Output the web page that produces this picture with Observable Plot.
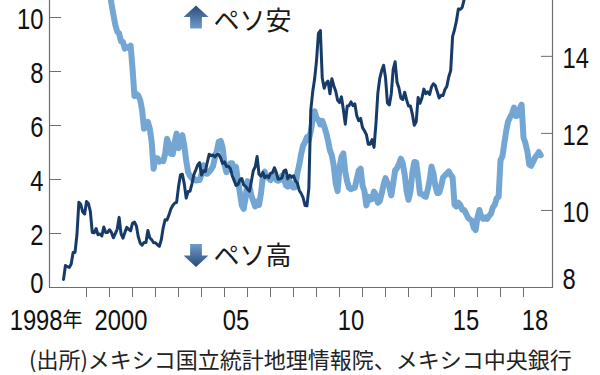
<!DOCTYPE html>
<html><head><meta charset="utf-8">
<script src="https://cdn.jsdelivr.net/npm/d3@7"></script>
<script src="https://cdn.jsdelivr.net/npm/@observablehq/plot@0.6"></script>
<style>
html,body{margin:0;padding:0;background:#fff;}
#wrap{position:relative;width:600px;height:375px;overflow:hidden;}
#caption{position:absolute;left:29px;top:342px;height:33px;line-height:33px;font-family:"Noto Sans CJK JP",sans-serif;font-size:22px;color:#222;white-space:nowrap;}
</style></head><body>
<div id="wrap"><div id="chart"></div><div id="caption">(出所)メキシコ国立統計地理情報院、メキシコ中央銀行</div></div>
<script>
// ---- data (monthly, from Jan 1998) ----
const startYear = 1998;
// consumer price inflation, % y/y (left axis)
const inflation = [
15.27,15.35,15.27,15.10,14.97,15.31,15.41,15.51,15.92,17.36,17.41,18.61,
19.02,18.52,17.67,16.89,16.34,15.97,15.46,14.64,13.78,13.29,13.02,12.32,
11.02,10.52,10.11,9.73,9.48,9.41,9.12,9.10,8.85,8.91,8.87,8.96,
8.11,7.09,7.17,7.11,6.95,6.57,5.88,5.93,6.14,5.89,5.39,4.40,
4.79,4.79,4.66,4.70,4.68,4.94,5.51,5.29,4.95,4.94,5.39,5.70,
5.16,5.52,5.64,5.25,4.70,4.27,4.13,4.04,4.04,3.96,3.98,3.98,
4.20,4.53,4.23,4.21,4.29,4.37,4.49,4.82,5.06,5.40,5.43,5.19,
4.54,4.27,4.39,4.60,4.60,4.33,4.47,3.95,3.51,3.05,2.91,3.33,
3.94,3.75,3.41,3.20,3.00,3.18,3.06,3.47,4.09,4.29,4.09,4.05,
3.98,4.11,4.21,3.99,3.95,3.98,4.14,4.03,3.79,3.74,3.93,3.76,
3.70,3.72,4.25,4.55,4.95,5.26,5.39,5.57,5.47,5.78,6.23,6.53,
6.28,6.20,6.04,6.17,5.98,5.74,5.44,5.08,4.89,4.50,3.86,3.57,
4.46,4.83,4.97,4.27,3.92,3.69,3.64,3.68,3.70,4.02,4.32,4.40,
3.78,3.57,3.04,3.36,3.25,3.28,3.55,3.42,3.14,3.20,3.48,3.82,
4.05,3.87,3.73,3.41,3.85,4.34,4.42,4.57,4.77,4.60,4.18,3.57,
3.25,3.55,4.25,4.65,4.63,4.09,3.47,3.46,3.39,3.36,3.62,3.97,
4.48,4.23,3.76,3.50,3.51,3.75,4.07,4.15,4.22,4.30,4.17,4.08,
3.07,3.00,3.14,3.06,2.88,2.87,2.74,2.59,2.52,2.48,2.21,2.13,
2.61,2.87,2.60,2.54,2.60,2.54,2.65,2.73,2.97,3.06,3.31,3.36,
4.72,4.86,5.35,5.82,6.16,6.31,6.44,6.66,6.35,6.37,6.63,6.77,
5.55,5.34,5.04,4.55,4.51,4.65,4.81,4.90,5.02,4.90
];
// pesos per US dollar (right axis)
const pesoPerDollar = [
8.21,8.57,8.54,8.52,8.61,8.91,8.91,9.37,10.21,10.16,9.96,9.91,
10.23,10.18,9.97,9.43,9.42,9.53,9.37,9.39,9.34,9.57,9.43,9.43,
9.50,9.43,9.29,9.40,9.51,9.82,9.40,9.28,9.43,9.56,9.51,9.47,
9.67,9.70,9.60,9.32,9.15,9.10,9.17,9.17,9.48,9.29,9.24,9.16,
9.16,9.11,9.07,9.24,9.55,9.76,9.75,9.88,10.04,10.13,10.19,10.21,
10.62,10.92,10.94,10.69,10.32,10.49,10.50,10.69,10.93,11.05,11.18,11.24,
10.92,11.03,11.01,11.25,11.46,11.42,11.44,11.39,11.45,11.45,11.36,11.22,
11.26,11.14,11.15,11.09,10.91,10.78,10.65,10.67,10.79,10.83,10.66,10.63,
10.55,10.50,10.75,11.03,11.13,11.40,10.94,10.89,10.99,10.85,10.90,10.85,
10.96,10.98,11.11,10.99,10.81,10.82,10.85,11.03,11.05,10.82,10.91,10.86,
10.90,10.77,10.71,10.52,10.44,10.33,10.13,10.12,10.58,12.60,13.08,13.41,
13.89,14.60,14.67,13.43,13.17,13.31,13.36,13.03,13.42,13.24,13.10,12.86,
12.80,12.95,12.62,12.24,12.71,12.72,12.82,12.72,12.77,12.46,12.33,12.39,
12.15,12.07,11.97,11.72,11.72,11.84,11.64,12.25,13.05,13.43,13.63,13.77,
13.45,12.79,12.74,13.03,13.66,13.86,13.33,13.18,12.92,12.88,13.07,12.87,
12.71,12.71,12.50,12.21,12.30,12.93,12.78,12.92,13.15,13.03,13.08,13.01,
13.21,13.29,13.24,13.08,12.92,12.99,12.98,13.14,13.22,13.47,13.63,14.52,
14.69,14.92,15.23,15.22,15.27,15.47,15.93,16.50,16.86,16.58,16.63,17.07,
18.08,18.45,17.65,17.48,18.15,18.66,18.60,18.52,19.19,18.88,20.05,20.52,
21.39,20.30,19.30,18.79,18.75,18.14,17.83,17.81,17.82,18.85,18.91,19.17,
18.91,18.61,18.61,18.40,19.57,20.30,19.00,18.83,18.94,19.24
];
const leftTicks = [0, 2, 4, 6, 8, 10];
const rightTicks = [8, 10, 12, 14];
const yearTicks = d3.range(1999, 2019);
const firstYearLabel = "1998";
const yearSuffix = "年";
const yearLabels = [2000, 2005, 2010, 2015, 2018];
const yearLabelText = ["2000", "05", "10", "15", "18"];
const upNote = ["ペソ安"];
const downNote = ["ペソ高"];

// ---- scales ----
const leftDomain = [0, 10.63];
const rightDomain = [8, 15.45];
const toLeft = v => (v - rightDomain[0]) / (rightDomain[1] - rightDomain[0]) * (leftDomain[1] - leftDomain[0]);
const fromLeft = y => rightDomain[0] + y / (leftDomain[1] - leftDomain[0]) * (rightDomain[1] - rightDomain[0]);

const infRows = inflation.map((v, i) => ({t: startYear + i / 12, v}));
const fxRows = pesoPerDollar.map((v, i) => ({t: startYear + i / 12, v: toLeft(v)}));
const yearRows = yearLabels.map((y, i) => ({x: y + 0.5, text: yearLabelText[i]}));

const lightBlue = "#74a6d3";
const navy = "#173b68";
const axisGray = "#6e6e6e";
const numFont = '"Liberation Sans",Arial,sans-serif';
const jpFont = '"Noto Sans CJK JP",sans-serif';
const narrow = 0.82; // condensed digits

const arrowUp = {draw(ctx, size) {
  const r = Math.sqrt(size / Math.PI);
  ctx.moveTo(0, -0.92 * r); ctx.lineTo(r, 0); ctx.lineTo(0.47 * r, 0); ctx.lineTo(0.47 * r, 0.92 * r);
  ctx.lineTo(-0.47 * r, 0.92 * r); ctx.lineTo(-0.47 * r, 0); ctx.lineTo(-r, 0); ctx.closePath();
}};
const arrowDown = {draw(ctx, size) {
  const r = Math.sqrt(size / Math.PI);
  ctx.moveTo(0, 0.92 * r); ctx.lineTo(r, 0); ctx.lineTo(0.47 * r, 0); ctx.lineTo(0.47 * r, -0.92 * r);
  ctx.lineTo(-0.47 * r, -0.92 * r); ctx.lineTo(-0.47 * r, 0); ctx.lineTo(-r, 0); ctx.closePath();
}};

const chart = Plot.plot({
  width: 600, height: 340,
  marginTop: 0, marginBottom: 53, marginLeft: 49, marginRight: 48,
  style: {fontFamily: numFont, fontSize: "29px", color: "#111", background: "#fff"},
  x: {domain: [1997.39, 2019.26]},
  y: {domain: leftDomain},
  marks: [
    Plot.line(infRows, {x: "t", y: "v", stroke: lightBlue, strokeWidth: 6, clip: true, strokeLinejoin: "round", strokeLinecap: "round"}),
    Plot.line(fxRows, {x: "t", y: "v", stroke: navy, strokeWidth: 3, clip: true, strokeLinejoin: "round", strokeLinecap: "round"}),
    Plot.ruleX([1997.39, 2019.26], {stroke: axisGray, strokeWidth: 1.2}),
    Plot.ruleY([0], {stroke: axisGray, strokeWidth: 1.2}),
    // left axis
    Plot.axisY({anchor: "left", ticks: leftTicks, tickSize: 12, dx: 12, fill: "none", stroke: axisGray, label: null}),
    Plot.axisY({anchor: "left", ticks: leftTicks.filter(t => t > 0), tickSize: 0, tickPadding: 6, dy: 2.5, label: null, fill: "#111", fontSize: 29, fontFamily: numFont}),
    Plot.axisY({anchor: "left", ticks: leftTicks.filter(t => t === 0), tickSize: 0, tickPadding: 6, dy: -4, label: null, fill: "#111", fontSize: 29, fontFamily: numFont}),
    // right axis
    Plot.axisY({anchor: "right", ticks: rightTicks.map(toLeft), tickSize: 12, dx: -12, fill: "none", stroke: axisGray, label: null}),
    Plot.axisY({anchor: "right", ticks: rightTicks.filter(t => t > 8).map(toLeft), tickFormat: d => Math.round(fromLeft(d)), tickSize: 0, tickPadding: 10, dy: 2, label: null, fill: "#111", fontSize: 29, fontFamily: numFont}),
    Plot.axisY({anchor: "right", ticks: rightTicks.filter(t => t === 8).map(toLeft), tickFormat: d => Math.round(fromLeft(d)), tickSize: 0, tickPadding: 10, dy: -8, label: null, fill: "#111", fontSize: 29, fontFamily: numFont}),
    // x axis
    Plot.axisX({anchor: "bottom", ticks: yearTicks, tickSize: 10, fill: "none", stroke: axisGray, label: null}),
    Plot.text(yearRows, {x: "x", y: 0, text: "text", dy: 33, fontSize: 29, fontFamily: numFont, fill: "#111"}),
    Plot.text([firstYearLabel], {x: 1998.826, y: 0, text: d => d, dy: 33, dx: -20, textAnchor: "end", fontSize: 29, fontFamily: numFont, fill: "#111"}),
    Plot.text([yearSuffix], {x: 1998.826, y: 0, text: d => d, dy: 33, textAnchor: "end", fontSize: 20, fontFamily: jpFont, fill: "#111"}),
    // annotations
    Plot.dot(upNote, {x: 2003.76, y: 10.02, r: 12.5, symbol: arrowUp, fill: "url(#gradUp)", stroke: "none"}),
    Plot.dot(downNote, {x: 2003.76, y: 1.185, r: 12.5, symbol: arrowDown, fill: "url(#gradDown)", stroke: "none"}),
    Plot.text(upNote, {x: 2004.52, y: 9.9, text: d => d, textAnchor: "start", fontSize: 26, fontFamily: jpFont, fill: "#1a1a1a", dy: 1}),
    Plot.text(downNote, {x: 2004.52, y: 1.185, text: d => d, textAnchor: "start", fontSize: 26, fontFamily: jpFont, fill: "#1a1a1a", dy: 1})
  ]
});

// condense the numeric labels (the reference uses a narrow face)
d3.select(chart).selectAll("text").each(function() {
  if (!/^\d+$/.test(this.textContent.trim())) return;
  const x = +this.getAttribute("x") || 0, y = +this.getAttribute("y") || 0;
  const t = this.getAttribute("transform") || "";
  this.setAttribute("transform", `${t} translate(${x},${y}) scale(${narrow},1) translate(${-x},${-y})`);
});

const defs = d3.select(chart).insert("defs", ":first-child");
const gu = defs.append("linearGradient").attr("id", "gradUp").attr("x1", 0).attr("y1", 0).attr("x2", 0).attr("y2", 1);
gu.append("stop").attr("offset", "0%").attr("stop-color", "#2a4a78");
gu.append("stop").attr("offset", "100%").attr("stop-color", "#6e9bcb");
const gd = defs.append("linearGradient").attr("id", "gradDown").attr("x1", 0).attr("y1", 0).attr("x2", 0).attr("y2", 1);
gd.append("stop").attr("offset", "0%").attr("stop-color", "#6e9bcb");
gd.append("stop").attr("offset", "100%").attr("stop-color", "#2a4a78");

document.getElementById("chart").appendChild(chart);
</script>
</body></html>
